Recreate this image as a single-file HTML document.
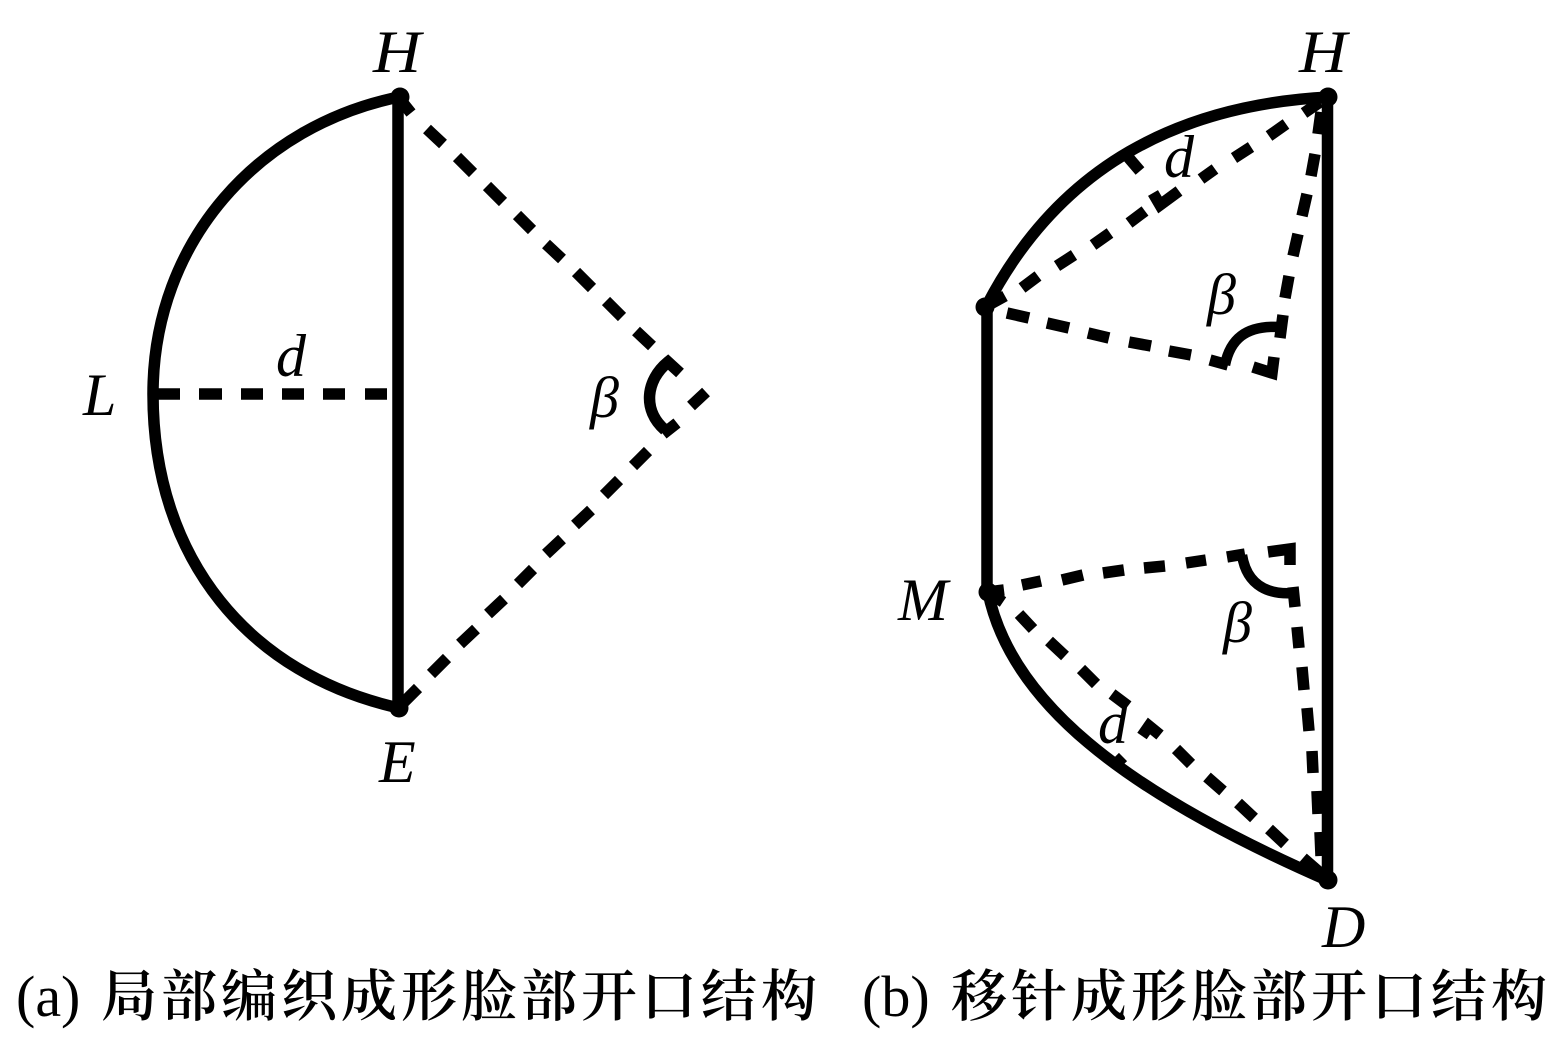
<!DOCTYPE html>
<html><head><meta charset="utf-8"><style>
html,body{margin:0;padding:0;background:#fff}
svg{display:block}
.l{font-family:"Liberation Serif",serif;font-style:italic;font-size:60px;fill:#000}
.b{font-family:"Liberation Serif",serif;font-style:italic;font-size:58px;fill:#000}
.p{font-family:"Liberation Serif",serif;font-size:58px;fill:#000}
.c{font-family:"Noto Serif CJK SC",serif;font-size:56px;letter-spacing:4px;font-weight:600;fill:#000}
.s{fill:none;stroke:#000;stroke-width:11.5}
.d{fill:none;stroke:#000;stroke-width:11.5}
</style></head><body>
<svg width="1554" height="1045" viewBox="0 0 1554 1045" xmlns="http://www.w3.org/2000/svg">
<rect width="1554" height="1045" fill="#fff"/>
<!-- a -->
<path class="s" d="M399 97 C260 125 153 240 153 394 C153 560 250 675 399 708"/>
<path class="s" d="M398 97 V708"/>
<path class="d" d="M153 394 H180 M199 394 H222 M241 394 H263 M282 394 H304 M323 394 H345 M365 394 H387"/>
<path class="d" d="M399 98 L411 113 M427 129 L443 144 M457 157 L473 173 M487 186 L503 202 M517 215 L532 230 M546 244 L562 259 M576 272 L592 288 M606 301 L622 317 M636 331 L652 346"/>
<path class="d" d="M706 392 L691 406 M648 451 L633 466 M619 480 L604 495 M591 510 L575 525 M562 539 L546 554 M533 569 L518 584 M504 599 L488 614 M476 629 L460 644 M447 658 L431 674 M418 688 L399 707"/>
<path class="s" d="M680 373 L668 362 C646 380 642 410 665 430 M677 423 L663 434"/>
<circle cx="400" cy="97" r="9.5" fill="#000"/><circle cx="399" cy="708" r="9.5" fill="#000"/>
<text class="l" x="373" y="72" textLength="48" lengthAdjust="spacingAndGlyphs">H</text>
<text class="l" x="83" y="415">L</text>
<text class="l" x="276" y="376">d</text>
<text class="b" x="590" y="417">β</text>
<text class="l" x="379" y="782">E</text>
<!-- b -->
<path class="s" d="M1329 97 C1180 105 1060 165 987 305"/>
<path class="s" d="M987 305 V592"/>
<path class="s" d="M988 592 C1010 700 1120 790 1329 881"/>
<path class="s" d="M1327.5 97 V881"/>
<path class="d" d="M985 307 L1005 296 M1022 288 L1038 276 M1057 266 L1074 255 M1093 245 L1110 233 M1129 223 L1145 211 M1153 193 L1160 205 L1179 191 M1201 179 L1215 169 M1234 158 L1251 147 M1269 136 L1286 124 M1304 113 L1320 102"/>
<path class="d" d="M1318 134 L1321 112 M1311 176 L1315 154 M1302 216 L1307 194 M1293 256 L1298 234 M1285 298 L1289 276"/>
<path class="d" d="M1007 313 L1029 318 M1047 323 L1069 328 M1088 333 L1109 338 M1129 342 L1151 346 M1169 351 L1191 355 M1253 367 L1272 373 L1274 357"/>
<path class="d" d="M1280 338 L1283 315 M1210 360 L1228 365"/>
<path class="s" style="stroke-width:10.5" d="M1280 327 C1245 325 1230 340 1225 365"/>
<path class="d" d="M1128 157 L1140 171"/>
<path class="d" d="M988 592 L1004 590 M1022 585 L1041 581 M1062 580 L1083 575 M1103 573 L1124 570 M1144 568 L1165 566 M1186 563 L1206 560 M1227 557 L1245 554 M1268 552 L1290 549 L1290 565"/>
<path class="s" style="stroke-width:10.5" d="M1242 555 C1247 587 1270 595 1295 593"/>
<path class="d" d="M1293 587 L1295 607 M1297 627 L1299 648 M1302 667 L1304 690 M1307 708 L1309 731 M1312 751 L1313 773 M1317 791 L1318 814 M1320 832 L1321 856"/>
<path class="d" d="M988 592 L1003 602 M1019 614 L1033 629 M1049 641 L1065 656 M1081 669 L1096 684 M1112 694 L1128 706 M1142 736 L1149 726 L1160 735 M1176 749 L1191 764 M1207 777 L1223 791 M1238 803 L1254 818 M1269 829 L1285 844 M1303 858 L1326 878"/>
<path class="d" d="M1123 757 L1113 767"/>
<circle cx="1328" cy="97" r="9.5" fill="#000"/><circle cx="1328" cy="880" r="9.5" fill="#000"/>
<circle cx="985" cy="307" r="9.5" fill="#000"/><circle cx="988" cy="592" r="9.5" fill="#000"/>
<text class="l" x="1299" y="72" textLength="48" lengthAdjust="spacingAndGlyphs">H</text>
<text class="l" x="1164" y="177">d</text>
<text class="b" x="1207" y="314">β</text>
<text class="b" x="1223" y="642">β</text>
<text class="l" x="898" y="620">M</text>
<text class="l" x="1098" y="743">d</text>
<text class="l" x="1322" y="947">D</text>
<!-- captions -->
<text class="p" x="16" y="1016">(a)</text>
<text class="c" x="101" y="1016">局部编织成形脸部开口结构</text>
<text class="p" x="862" y="1016">(b)</text>
<text class="c" x="951" y="1016">移针成形脸部开口结构</text>
</svg>
</body></html>
